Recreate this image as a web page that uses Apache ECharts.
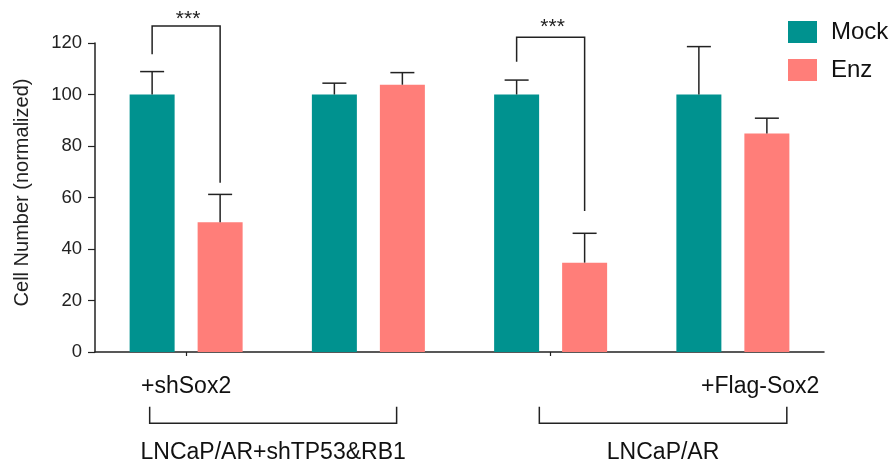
<!DOCTYPE html>
<html>
<head>
<meta charset="utf-8">
<script src="https://cdn.jsdelivr.net/npm/echarts@6/dist/echarts.min.js"></script>
<style>
html,body{margin:0;padding:0;background:#fff;}
#chart{width:893px;height:464px;}
</style>
</head>
<body>
<div id="chart"></div>
<script>
// ---- data ----
const categories = ['LNCaP/AR+shTP53&RB1 +shSox2', 'LNCaP/AR+shTP53&RB1', 'LNCaP/AR', 'LNCaP/AR +Flag-Sox2'];
const seriesNames = ['Mock', 'Enz'];
const mockValues = [100, 100, 100, 100];
const mockErrors = [8.9, 4.4, 5.6, 18.6];
const enzValues = [50.4, 103.8, 34.7, 84.9];
const enzErrors = [10.8, 4.7, 11.4, 5.9];
const yTickMin = 0, yTickMax = 120, yTickStep = 20;
const yAxisTitle = 'Cell Number (normalized)';
// significance brackets: category, left end, top, right end, label height
const sigCats = [0, 2];
const sigLeftY = [115.6, 112.7];
const sigTopY = [126.6, 122.2];
const sigRightY = [65.7, 54.8];
const sigStarY = [129.3, 126.1];
const sigLabels = ['***', '***'];
// x-axis annotations
const subLabels = ['+shSox2', '+Flag-Sox2'];
const subLabelPos = [0, 3.15];
const groupLabels = ['LNCaP/AR+shTP53&RB1', 'LNCaP/AR'];
const groupFrom = [-0.2, 1.938];
const groupTo = [1.155, 3.296];

// ---- style ----
const FONT = '"Liberation Sans", Arial, Helvetica, sans-serif';
const TEAL = '#00928F', SALMON = '#FF7E79', INK = '#222';
const BAR_W = 45, BAR_GAP_PX = 23;
const OFF = (BAR_W + BAR_GAP_PX) / 2;

const chart = echarts.init(document.getElementById('chart'));

function errRender(sign) {
  return function (params, api) {
    const cat = api.value(0), v = api.value(1), e = api.value(2);
    const b = api.coord([cat, v]);
    const t = api.coord([cat, v + e]);
    const x = b[0] + sign * OFF;
    const st = { stroke: INK, lineWidth: 1.5 };
    return { type: 'group', children: [
      { type: 'line', shape: { x1: x, y1: b[1], x2: x, y2: t[1] }, style: st },
      { type: 'line', shape: { x1: x - 12, y1: t[1], x2: x + 12, y2: t[1] }, style: st }
    ]};
  };
}

function sigRender(params, api) {
  const cat = api.value(0);
  const c = api.coord([cat, 0])[0];
  const xl = c - OFF, xr = c + OFF;
  const yl = api.coord([cat, api.value(1)])[1];
  const yt = api.coord([cat, api.value(2)])[1];
  const yr = api.coord([cat, api.value(3)])[1];
  const ys = api.coord([cat, api.value(4)])[1];
  return { type: 'group', children: [
    { type: 'polyline', shape: { points: [[xl, yl], [xl, yt], [xr, yt], [xr, yr]] },
      style: { stroke: INK, lineWidth: 1.5, fill: null } },
    { type: 'text', x: (xl + xr) / 2 + 2, y: ys,
      style: { text: sigLabels[params.dataIndex], font: '21px ' + FONT, fill: INK,
               textAlign: 'center', textVerticalAlign: 'middle' } }
  ]};
}

chart.setOption({
  animation: false,
  backgroundColor: '#fff',
  grid: { left: 95, right: 69, top: 43, bottom: 112, containLabel: false, outerBoundsMode: 'none' },
  legend: {
    data: seriesNames, orient: 'vertical', left: 788, top: 20, padding: 0,
    itemWidth: 29, itemHeight: 22, itemGap: 14, icon: 'rect',
    textStyle: { fontFamily: FONT, fontSize: 24, color: '#111', padding: [0, 0, 0, 9] }
  },
  xAxis: {
    type: 'category', data: categories,
    axisLine: { lineStyle: { color: INK, width: 1.5 } },
    axisTick: { show: true, alignWithLabel: true, length: 4, lineStyle: { color: INK, width: 1.2 } },
    axisLabel: { show: false }
  },
  yAxis: {
    type: 'value', min: yTickMin, max: yTickMax, interval: yTickStep,
    name: yAxisTitle, nameLocation: 'middle', nameGap: 63,
    nameTextStyle: { fontFamily: FONT, fontSize: 20, color: INK, padding: [0, 0, 0, 10] },
    axisLine: { show: true, lineStyle: { color: INK, width: 1.5 } },
    axisTick: { show: true, length: 7, lineStyle: { color: INK, width: 1.2 } },
    axisLabel: { fontFamily: FONT, fontSize: 18.5, color: INK, margin: 13 },
    splitLine: { show: false }
  },
  series: [
    { name: seriesNames[0], type: 'bar', data: mockValues, barWidth: BAR_W,
      barGap: (BAR_GAP_PX / BAR_W * 100) + '%', itemStyle: { color: TEAL } },
    { name: seriesNames[1], type: 'bar', data: enzValues, barWidth: BAR_W,
      itemStyle: { color: SALMON } },
    { type: 'custom', renderItem: errRender(-1), clip: false, z: 5,
      data: categories.map((c, i) => [i, mockValues[i], mockErrors[i]]) },
    { type: 'custom', renderItem: errRender(1), clip: false, z: 5,
      data: categories.map((c, i) => [i, enzValues[i], enzErrors[i]]) },
    { type: 'custom', renderItem: sigRender, clip: false, z: 6,
      data: sigCats.map((c, i) => [c, sigLeftY[i], sigTopY[i], sigRightY[i], sigStarY[i]]) }
  ]
});

// annotations below x axis, anchored to category positions
const p0 = chart.convertToPixel({ xAxisIndex: 0 }, 0);
const p1 = chart.convertToPixel({ xAxisIndex: 0 }, 1);
const band = p1 - p0;
const xAt = f => p0 + f * band;
const graphics = [];
subLabels.forEach((t, i) => {
  graphics.push({ type: 'text', x: xAt(subLabelPos[i]), y: 387,
    style: { text: t, font: '23px ' + FONT, fill: '#111', textAlign: 'center', textVerticalAlign: 'middle' } });
});
groupLabels.forEach((t, i) => {
  const l = xAt(groupFrom[i]), r = xAt(groupTo[i]);
  graphics.push({ type: 'polyline', shape: { points: [[l, 406.7], [l, 423.3], [r, 423.3], [r, 406.7]] },
    style: { stroke: INK, lineWidth: 1.5, fill: null } });
  graphics.push({ type: 'text', x: (l + r) / 2, y: 452.5,
    style: { text: t, font: '23px ' + FONT, fill: '#111', textAlign: 'center', textVerticalAlign: 'middle' } });
});
chart.setOption({ graphic: graphics });
</script>
</body>
</html>
